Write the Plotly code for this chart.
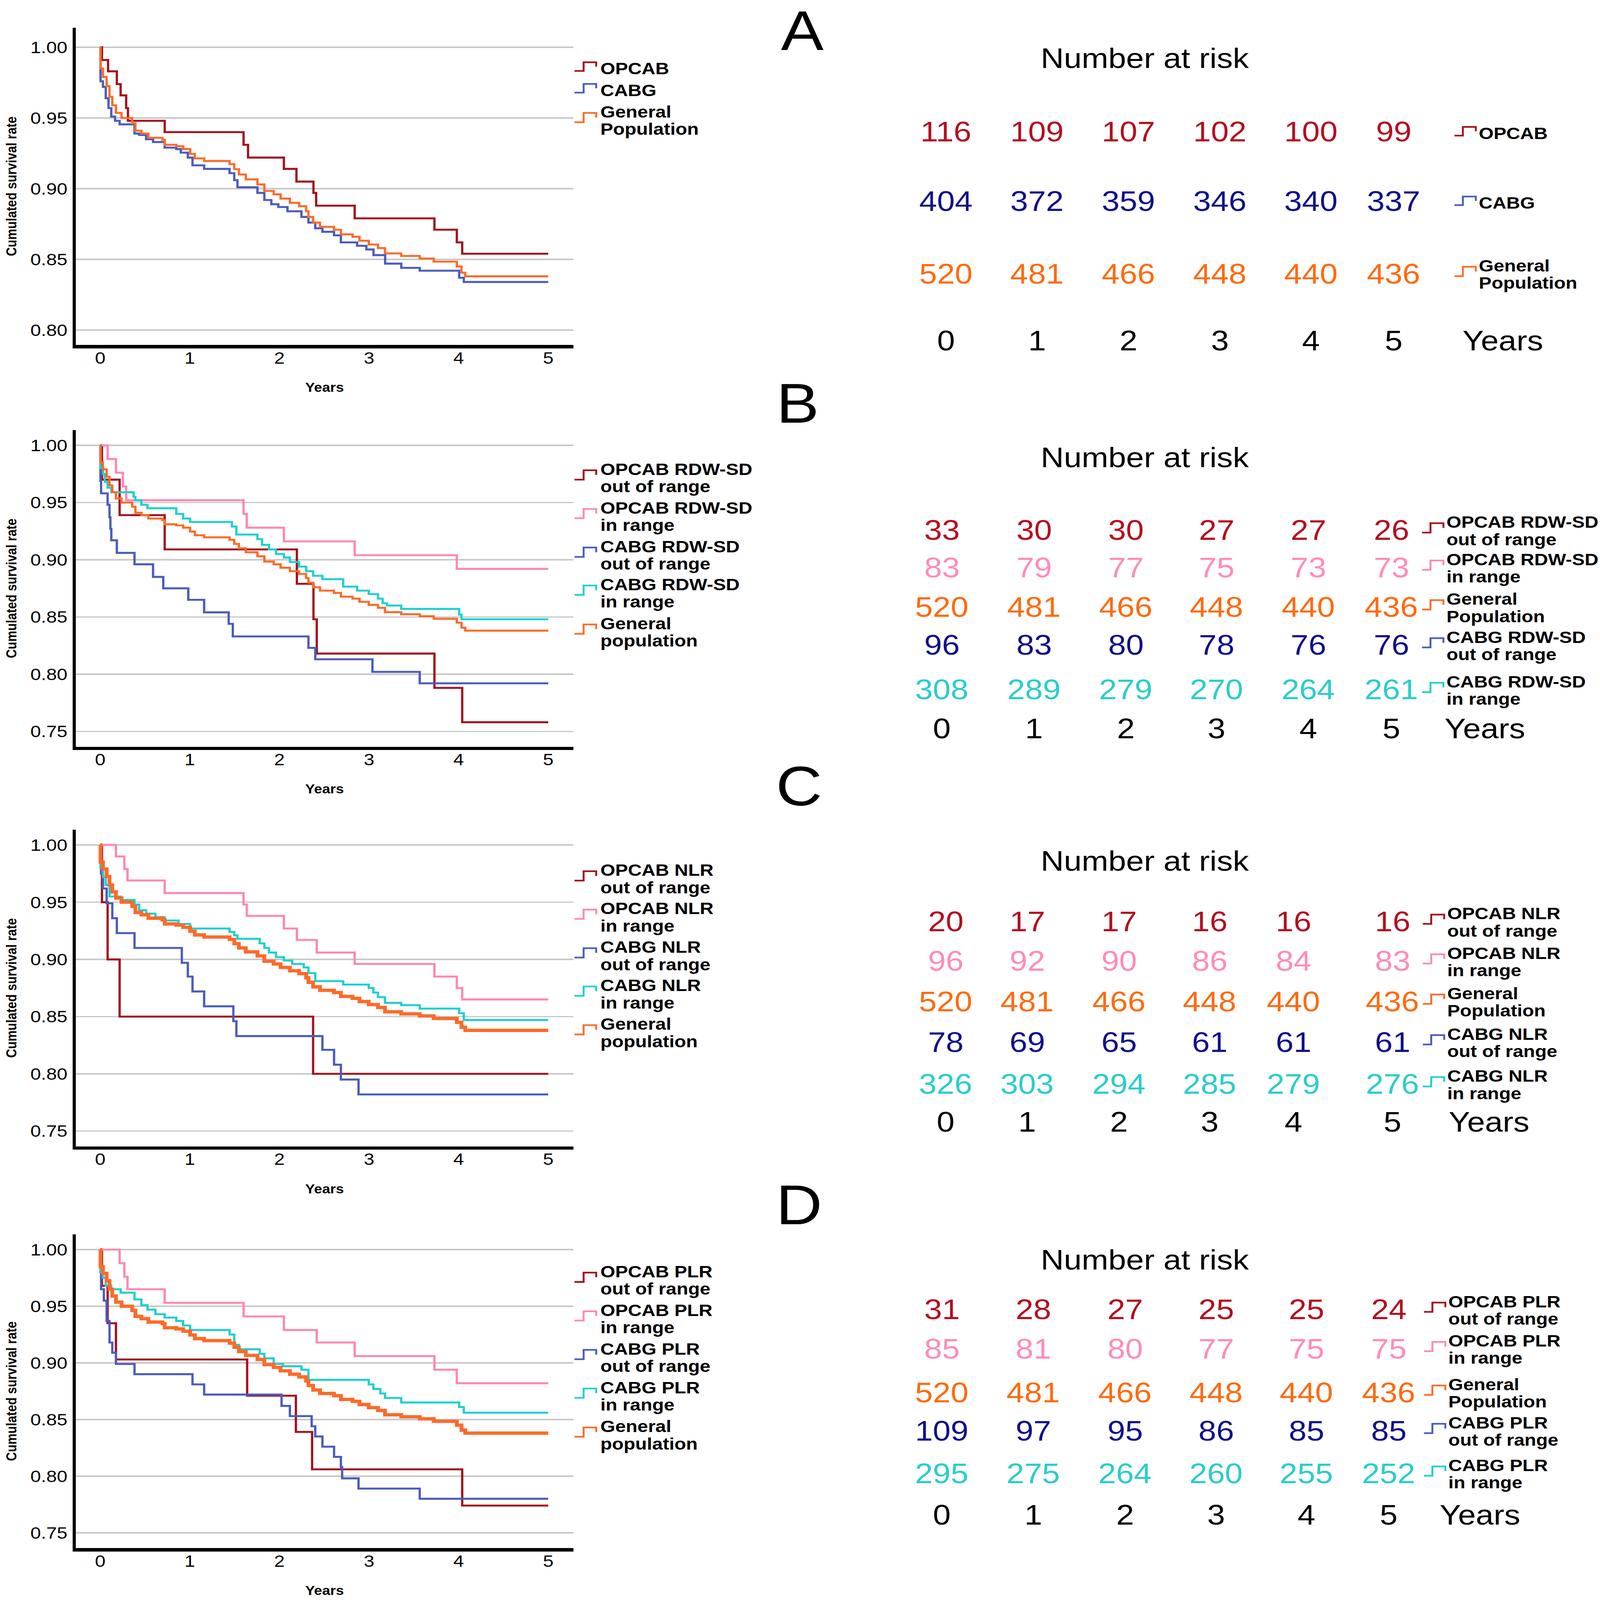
import plotly.graph_objects as go

W, H = 4200, 4804
FONT = "Liberation Sans, Arial, sans-serif"

RED = "#a3121c"
BLUE = "#4a5cbd"
ORANGE = "#fb6b2a"
PINK = "#ff87b2"
CYAN = "#20cfcf"

NUM_RED = "#b40f1e"
NUM_NAVY = "#10108a"
NUM_ORANGE = "#ff6a10"
NUM_PINK = "#ff8cba"
NUM_CYAN = "#2ccccc"

YEARS = [0, 1, 2, 3, 4, 5]

# ---- survival curves (time in years, cumulative survival) ----
GEN_T = [0, 0.004, 0.031, 0.072, 0.104, 0.135, 0.176, 0.238, 0.357, 0.393,
         0.46, 0.538, 0.694, 0.72, 0.849, 0.926, 1.004, 1.056, 1.16, 1.444,
         1.496, 1.548, 1.625, 1.755, 1.832, 1.936, 2.013, 2.117, 2.22, 2.298,
         2.324, 2.376, 2.453, 2.609, 2.686, 2.816, 2.893, 2.997, 3.1, 3.178,
         3.359, 3.566, 3.722, 3.98, 4.032, 4.074, 5.0]
GEN_S = [1.0, 0.985, 0.979, 0.9725, 0.965, 0.959, 0.9536, 0.950, 0.9463, 0.941,
         0.939, 0.936, 0.9346, 0.931, 0.930, 0.928, 0.9246, 0.9214, 0.9196, 0.9174,
         0.9138, 0.910, 0.9066, 0.903, 0.8984, 0.896, 0.893, 0.890, 0.8876, 0.884,
         0.880, 0.876, 0.873, 0.871, 0.8677, 0.866, 0.8632, 0.8605, 0.858, 0.8542,
         0.8524, 0.8506, 0.8484, 0.845, 0.8406, 0.838, 0.838]

A_OPCAB_T = [0, 0.02, 0.088, 0.186, 0.228, 0.29, 0.31, 0.72, 1.60, 1.65,
             2.05, 2.19, 2.38, 2.41, 2.84, 3.73, 3.98, 4.04, 5.0]
A_OPCAB_S = [1.0, 0.991, 0.983, 0.974, 0.966, 0.957, 0.948, 0.940, 0.931, 0.922,
             0.914, 0.905, 0.897, 0.888, 0.879, 0.871, 0.862, 0.854, 0.854]

A_CABG_T = [0, 0.004, 0.031, 0.062, 0.093, 0.124, 0.166, 0.217, 0.383, 0.435,
            0.512, 0.59, 0.72, 0.849, 0.90, 0.978, 1.03, 1.16, 1.444, 1.496,
            1.532, 1.755, 1.832, 1.91, 1.988, 2.09, 2.246, 2.324, 2.40, 2.48,
            2.61, 2.686, 2.867, 2.97, 3.05, 3.18, 3.36, 3.566, 4.006, 4.058, 5.0]
A_CABG_S = [1.0, 0.976, 0.972, 0.964, 0.957, 0.951, 0.948, 0.9455, 0.939, 0.938,
            0.935, 0.933, 0.929, 0.928, 0.9255, 0.922, 0.9165, 0.914, 0.911, 0.906,
            0.901, 0.897, 0.892, 0.889, 0.887, 0.884, 0.880, 0.876, 0.872, 0.8695,
            0.867, 0.862, 0.8596, 0.857, 0.853, 0.847, 0.844, 0.842, 0.837, 0.834, 0.834]

B_OPCAB_OUT_T = [0, 0.02, 0.217, 0.72, 2.195, 2.38, 2.417, 3.73, 4.04, 5.0]
B_OPCAB_OUT_S = [1.0, 0.970, 0.939, 0.909, 0.879, 0.848, 0.818, 0.788, 0.758, 0.758]
B_OPCAB_IN_T = [0, 0.083, 0.176, 0.254, 0.29, 1.6, 1.636, 2.05, 2.84, 3.98, 5.0]
B_OPCAB_IN_S = [1.0, 0.988, 0.976, 0.964, 0.952, 0.940, 0.928, 0.916, 0.904, 0.892, 0.892]
B_CABG_OUT_T = [0, 0.003, 0.01, 0.083, 0.104, 0.114, 0.124, 0.186, 0.383, 0.59,
                0.704, 0.983, 1.16, 1.434, 1.48, 2.324, 2.40, 3.038, 3.566, 5.0]
B_CABG_OUT_S = [1.0, 0.969, 0.958, 0.948, 0.937, 0.927, 0.917, 0.906, 0.896, 0.885,
                0.875, 0.865, 0.854, 0.844, 0.833, 0.823, 0.813, 0.802, 0.792, 0.792]
B_CABG_IN_T = [0, 0.004, 0.031, 0.052, 0.083, 0.124, 0.373, 0.393, 0.46, 0.528,
               0.849, 0.926, 1.004, 1.47, 1.52, 1.755, 1.806, 1.884, 1.962, 2.05,
               2.117, 2.22, 2.298, 2.376, 2.48, 2.712, 2.867, 2.997, 3.1, 3.152,
               3.2, 3.359, 4.006, 4.032, 5.0]
B_CABG_IN_S = [1.0, 0.980, 0.975, 0.968, 0.963, 0.959, 0.955, 0.952, 0.948, 0.945,
               0.940, 0.936, 0.933, 0.929, 0.922, 0.918, 0.913, 0.909, 0.905, 0.902,
               0.898, 0.894, 0.890, 0.886, 0.883, 0.8765, 0.873, 0.870, 0.866, 0.862,
               0.860, 0.857, 0.852, 0.848, 0.848]

C_OPCAB_OUT_T = [0, 0.02, 0.083, 0.217, 2.376, 5.0]
C_OPCAB_OUT_S = [1.0, 0.95, 0.90, 0.85, 0.80, 0.80]
C_OPCAB_IN_T = [0, 0.176, 0.27, 0.305, 0.72, 1.6, 1.636, 2.05, 2.195, 2.417,
                2.84, 3.73, 3.98, 4.04, 5.0]
C_OPCAB_IN_S = [1.0, 0.990, 0.979, 0.969, 0.958, 0.948, 0.938, 0.927, 0.917, 0.906,
                0.896, 0.885, 0.875, 0.865, 0.865]
C_CABG_OUT_T = [0, 0.005, 0.01, 0.031, 0.072, 0.135, 0.186, 0.383, 0.911, 0.978,
                1.03, 1.16, 1.486, 1.52, 2.48, 2.61, 2.686, 2.883, 5.0]
C_CABG_OUT_S = [1.0, 0.987, 0.975, 0.962, 0.949, 0.936, 0.923, 0.910, 0.897, 0.885,
                0.872, 0.859, 0.846, 0.833, 0.821, 0.808, 0.795, 0.782, 0.782]
C_CABG_IN_T = [0, 0.004, 0.031, 0.062, 0.104, 0.228, 0.383, 0.435, 0.512, 0.616,
               0.72, 0.875, 1.004, 1.444, 1.496, 1.532, 1.78, 1.832, 1.884, 1.962,
               2.05, 2.143, 2.272, 2.324, 2.40, 2.712, 2.997, 3.049, 3.1, 3.178,
               3.359, 3.566, 4.006, 4.058, 5.0]
C_CABG_IN_S = [1.0, 0.980, 0.972, 0.965, 0.955, 0.952, 0.948, 0.943, 0.940, 0.937,
               0.934, 0.931, 0.927, 0.924, 0.921, 0.918, 0.914, 0.910, 0.906, 0.902,
               0.899, 0.896, 0.893, 0.888, 0.881, 0.878, 0.875, 0.871, 0.867, 0.862,
               0.860, 0.857, 0.853, 0.847, 0.847]

D_OPCAB_OUT_T = [0, 0.02, 0.083, 0.176, 1.64, 2.184, 2.365, 4.04, 5.0]
D_OPCAB_OUT_S = [1.0, 0.968, 0.935, 0.903, 0.871, 0.839, 0.806, 0.774, 0.774]
D_OPCAB_IN_T = [0, 0.217, 0.27, 0.305, 0.72, 1.6, 2.05, 2.417, 2.84, 3.73, 3.98, 5.0]
D_OPCAB_IN_S = [1.0, 0.988, 0.976, 0.965, 0.953, 0.941, 0.929, 0.918, 0.906, 0.894, 0.882, 0.882]
D_CABG_OUT_T = [0, 0.004, 0.01, 0.041, 0.072, 0.104, 0.135, 0.176, 0.383, 1.03,
                1.16, 2.024, 2.117, 2.36, 2.40, 2.48, 2.61, 2.686, 2.70, 2.883, 3.566, 5.0]
D_CABG_OUT_S = [1.0, 0.980, 0.965, 0.955, 0.937, 0.918, 0.909, 0.899, 0.890, 0.881,
                0.872, 0.862, 0.853, 0.844, 0.835, 0.826, 0.817, 0.808, 0.798, 0.789, 0.780, 0.780]
D_CABG_IN_T = [0, 0.004, 0.031, 0.062, 0.124, 0.228, 0.383, 0.46, 0.528, 0.616,
               0.72, 0.849, 0.926, 1.004, 1.444, 1.496, 1.548, 1.78, 1.832, 1.936,
               2.04, 2.246, 2.324, 2.997, 3.049, 3.126, 3.178, 3.359, 4.006, 4.058, 5.0]
D_CABG_IN_S = [1.0, 0.980, 0.975, 0.968, 0.965, 0.962, 0.956, 0.951, 0.947, 0.943,
               0.940, 0.937, 0.933, 0.929, 0.925, 0.916, 0.912, 0.908, 0.904, 0.899,
               0.897, 0.894, 0.885, 0.881, 0.877, 0.873, 0.869, 0.865, 0.861, 0.856, 0.856]

# ---- number at risk ----
RISK_GEN = [520, 481, 466, 448, 440, 436]
RISK_A_OPCAB = [116, 109, 107, 102, 100, 99]
RISK_A_CABG = [404, 372, 359, 346, 340, 337]
RISK_B = [[33, 30, 30, 27, 27, 26], [83, 79, 77, 75, 73, 73], RISK_GEN,
          [96, 83, 80, 78, 76, 76], [308, 289, 279, 270, 264, 261]]
RISK_C = [[20, 17, 17, 16, 16, 16], [96, 92, 90, 86, 84, 83], RISK_GEN,
          [78, 69, 65, 61, 61, 61], [326, 303, 294, 285, 279, 276]]
RISK_D = [[31, 28, 27, 25, 25, 24], [85, 81, 80, 77, 75, 75], RISK_GEN,
          [109, 97, 95, 86, 85, 85], [295, 275, 264, 260, 255, 252]]


def px(x):
    return x / W


def py(y):
    return 1 - y / H


annotations = []
shapes = []


def text(x, y, s, size, color="black", anchor="center", bold=False):
    annotations.append(dict(
        x=px(x), y=py(y), xref="paper", yref="paper", text=s, showarrow=False,
        xanchor=anchor, yanchor="middle", align="left",
        font=dict(family=FONT, size=size, color=color,
                  weight="bold" if bold else "normal"),
    ))


def glyph(x0, xm, x1, top, low, color):
    # little step key, like the SPSS legend symbol
    pts = [(x0, low), (xm, low), (xm, top), (x1, top), (x1, (top + low) / 2)]
    path = "M " + " L ".join(f"{px(a):.5f},{py(b):.5f}" for a, b in pts)
    shapes.append(dict(type="path", path=path, xref="paper", yref="paper",
                       line=dict(color=color, width=5)))


def key_label(xtext, y, label, color, gx):
    # y = centre of first text line
    lines = label.split("<br>")
    for i, ln in enumerate(lines):
        text(xtext, y + 52 * i, ln, 50, anchor="left", bold=True)
    if len(lines) == 1:
        top, low = y - 19, y + 7
    else:
        top, low = y + 3, y + 31
    glyph(gx[0], gx[1], gx[2], top, low, color)


fig = go.Figure()

panels = [
    dict(key="", top=83, bottom=1036, yr=[0.7894, 1.0139],
         ticks=[0.80, 0.85, 0.90, 0.95, 1.00], leg_y=[206, 271, 336],
         curves=[("OPCAB", A_OPCAB_T, A_OPCAB_S, RED, 6),
                 ("CABG", A_CABG_T, A_CABG_S, BLUE, 6),
                 ("General<br>Population", GEN_T, GEN_S, ORANGE, 6)]),
    dict(key="2", top=1291, bottom=2242, yr=[0.7366, 1.0134],
         ticks=[0.75, 0.80, 0.85, 0.90, 0.95, 1.00], leg_y=[1409, 1525, 1641, 1755, 1872],
         curves=[("OPCAB RDW-SD<br>out of range", B_OPCAB_OUT_T, B_OPCAB_OUT_S, RED, 6),
                 ("OPCAB RDW-SD<br>in range", B_OPCAB_IN_T, B_OPCAB_IN_S, PINK, 6),
                 ("CABG RDW-SD<br>out of range", B_CABG_OUT_T, B_CABG_OUT_S, BLUE, 6),
                 ("CABG RDW-SD<br>in range", B_CABG_IN_T, B_CABG_IN_S, CYAN, 6),
                 ("General<br>population", GEN_T, GEN_S, ORANGE, 6)]),
    dict(key="3", top=2491, bottom=3442, yr=[0.7366, 1.0134],
         ticks=[0.75, 0.80, 0.85, 0.90, 0.95, 1.00], leg_y=[2613, 2728, 2844, 2959, 3075],
         curves=[("OPCAB NLR<br>out of range", C_OPCAB_OUT_T, C_OPCAB_OUT_S, RED, 6),
                 ("OPCAB NLR<br>in range", C_OPCAB_IN_T, C_OPCAB_IN_S, PINK, 6),
                 ("CABG NLR<br>out of range", C_CABG_OUT_T, C_CABG_OUT_S, BLUE, 6),
                 ("CABG NLR<br>in range", C_CABG_IN_T, C_CABG_IN_S, CYAN, 6),
                 ("General<br>population", GEN_T, GEN_S, ORANGE, 10)]),
    dict(key="4", top=3706, bottom=4648, yr=[0.7365, 1.0135],
         ticks=[0.75, 0.80, 0.85, 0.90, 0.95, 1.00], leg_y=[3818, 3934, 4050, 4166, 4283],
         curves=[("OPCAB PLR<br>out of range", D_OPCAB_OUT_T, D_OPCAB_OUT_S, RED, 6),
                 ("OPCAB PLR<br>in range", D_OPCAB_IN_T, D_OPCAB_IN_S, PINK, 6),
                 ("CABG PLR<br>out of range", D_CABG_OUT_T, D_CABG_OUT_S, BLUE, 6),
                 ("CABG PLR<br>in range", D_CABG_IN_T, D_CABG_IN_S, CYAN, 6),
                 ("General<br>population", GEN_T, GEN_S, ORANGE, 10)]),
]

layout_axes = {}
for p in panels:
    k = p["key"]
    for name, t, s, color, lw in p["curves"]:
        fig.add_trace(go.Scatter(
            x=t, y=s, mode="lines", name=name.replace("<br>", " "),
            line=dict(color=color, width=lw, shape="hv"),
            xaxis="x" + k, yaxis="y" + k, showlegend=False,
        ))
    for (name, _, _, color, _), ly in zip(p["curves"], p["leg_y"]):
        key_label(1574, ly, name, color, (1508, 1532, 1565))
    layout_axes["xaxis" + k] = dict(
        domain=[px(199), px(1505)], anchor="y" + k, range=[-0.272, 5.28],
        tickvals=YEARS, showgrid=False, zeroline=False,
        showline=True, linecolor="black", linewidth=10, ticks="",
        ticklabelstandoff=-14,
        tickfont=dict(family=FONT, size=50, color="black"),
        title=dict(text="Years", standoff=52,
                   font=dict(family=FONT, size=38, color="black", weight="bold")),
    )
    layout_axes["yaxis" + k] = dict(
        domain=[py(p["bottom"]), py(p["top"])], anchor="x" + k, range=p["yr"],
        tickvals=p["ticks"], tickformat=".2f", showgrid=True,
        gridcolor="#c8c8c8", gridwidth=4, zeroline=False,
        showline=True, linecolor="black", linewidth=8, ticks="",
        ticklabelstandoff=4,
        tickfont=dict(family=FONT, size=50, color="black"),
        title=dict(text="Cumulated survival rate", standoff=28,
                   font=dict(family=FONT, size=37, color="black", weight="bold")),
    )

tables = [
    dict(letter="A", lx=2106, ly=92, title_y=175,
         cols=[2483, 2722, 2962, 3202, 3441, 3658],
         rows=[395, 604, 822], years_y=1023, years_x=3945, label_x=3880,
         data=[RISK_A_OPCAB, RISK_A_CABG, RISK_GEN],
         colors=[NUM_RED, NUM_NAVY, NUM_ORANGE],
         glyphs=[RED, BLUE, ORANGE],
         labels=["OPCAB", "CABG", "General<br>Population"]),
    dict(letter="B", lx=2094, ly=1211, title_y=1374,
         cols=[2472, 2714, 2955, 3193, 3434, 3652],
         rows=[1592, 1704, 1823, 1937, 2071], years_y=2188, years_x=3898, label_x=3795,
         data=RISK_B,
         colors=[NUM_RED, NUM_PINK, NUM_ORANGE, NUM_NAVY, NUM_CYAN],
         glyphs=[RED, PINK, ORANGE, BLUE, CYAN],
         labels=["OPCAB RDW-SD<br>out of range", "OPCAB RDW-SD<br>in range",
                 "General<br>Population", "CABG RDW-SD<br>out of range",
                 "CABG RDW-SD<br>in range"]),
    dict(letter="C", lx=2097, ly=2361, title_y=2585,
         cols=[2482, 2696, 2937, 3175, 3395, 3655],
         rows=[2767, 2886, 3007, 3129, 3255], years_y=3369, years_x=3909, label_x=3797,
         data=RISK_C,
         colors=[NUM_RED, NUM_PINK, NUM_ORANGE, NUM_NAVY, NUM_CYAN],
         glyphs=[RED, PINK, ORANGE, BLUE, CYAN],
         labels=["OPCAB NLR<br>out of range", "OPCAB NLR<br>in range",
                 "General<br>Population", "CABG NLR<br>out of range",
                 "CABG NLR<br>in range"]),
    dict(letter="D", lx=2097, ly=3618, title_y=3783,
         cols=[2472, 2712, 2953, 3192, 3429, 3645],
         rows=[3932, 4050, 4181, 4296, 4424], years_y=4549, years_x=3885, label_x=3800,
         data=RISK_D,
         colors=[NUM_RED, NUM_PINK, NUM_ORANGE, NUM_NAVY, NUM_CYAN],
         glyphs=[RED, PINK, ORANGE, BLUE, CYAN],
         labels=["OPCAB PLR<br>out of range", "OPCAB PLR<br>in range",
                 "General<br>Population", "CABG PLR<br>out of range",
                 "CABG PLR<br>in range"]),
]

for tb in tables:
    text(tb["lx"], tb["ly"], tb["letter"], 168)
    text(3005, tb["title_y"], "Number at risk", 84)
    lx = tb["label_x"]
    for row_y, values, color, gcol, label in zip(tb["rows"], tb["data"], tb["colors"],
                                                 tb["glyphs"], tb["labels"]):
        for cx, v in zip(tb["cols"], values):
            text(cx, row_y, str(v), 84, color)
        first = row_y + 5 if "<br>" not in label else row_y - 24
        key_label(lx, first, label, gcol, (lx - 62, lx - 40, lx - 6))
    for cx, yr in zip(tb["cols"], YEARS):
        text(cx, tb["years_y"], str(yr), 84)
    text(tb["years_x"], tb["years_y"], "Years", 84)

fig.update_layout(
    width=W, height=H,
    margin=dict(l=0, r=0, t=0, b=0),
    paper_bgcolor="white", plot_bgcolor="white",
    font=dict(family=FONT, color="black"),
    showlegend=False,
    annotations=annotations, shapes=shapes,
    **layout_axes,
)

# the browser may give a smaller window than asked for: fit the page into it
fit = (
    "var gd=document.getElementById('{plot_id}');"
    "document.body.style.margin='0';document.body.style.overflow='hidden';"
    "var sx=Math.min(1,window.innerWidth/%d),sy=Math.min(1,window.innerHeight/%d);"
    "gd.style.transformOrigin='0 0';"
    "gd.style.transform='scale('+sx+','+sy+')';" % (W, H)
)
fig.write_html("out.html", post_script=fit, config={"displayModeBar": False})
